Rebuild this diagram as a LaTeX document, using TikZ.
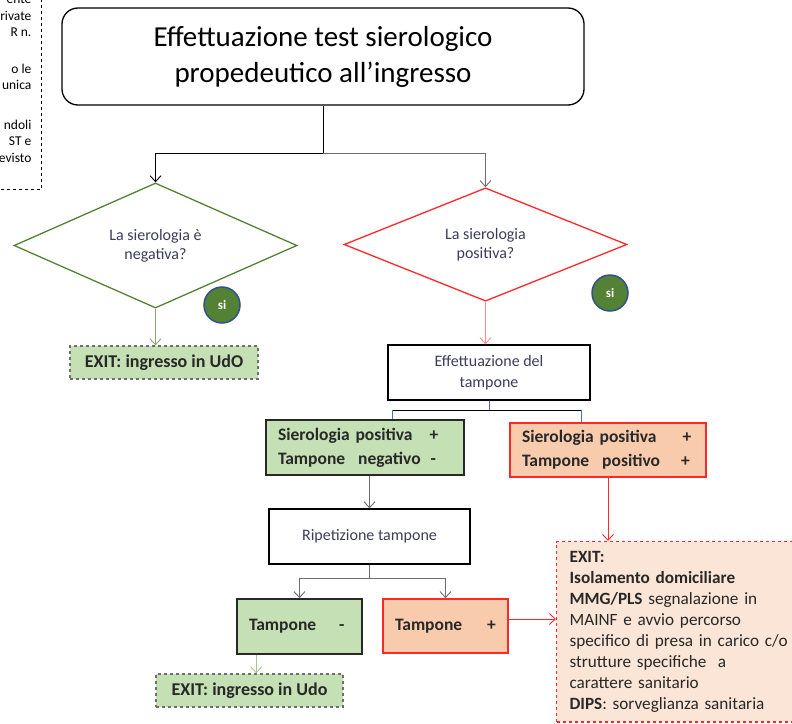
\documentclass[tikz,border=0pt]{standalone}
\usepackage{fontspec}
\setmainfont{Carlito}
\usetikzlibrary{arrows.meta,positioning,shapes.geometric,calc}
\definecolor{sieroGreen}{RGB}{84,130,53}
\definecolor{sieroBadge}{RGB}{47,82,143}
\definecolor{sieroLightGreen}{RGB}{197,224,180}
\definecolor{sieroLightRed}{RGB}{248,203,173}
\definecolor{sieroExitRed}{RGB}{251,229,214}
\definecolor{sieroRed}{RGB}{255,40,40}
\definecolor{sieroPink}{RGB}{255,140,140}
\definecolor{sieroGrey}{RGB}{110,110,110}
\definecolor{sieroBlue}{RGB}{68,114,196}
\definecolor{sieroText}{RGB}{60,60,90}
\definecolor{sieroDark}{RGB}{40,40,40}

\begin{document}
\begin{tikzpicture}[
  x=1pt,y=-1pt,
  decision/.style={
    draw,
    diamond,
    minimum width=283pt,
    minimum height=96pt,
    inner sep=0pt,
    align=center,
    line width=1.3pt,
    text=sieroText,
    font=\fontsize{16}{19}\selectfont
  },
  stepbox/.style={
    draw,
    line width=1.3pt,
    align=center,
    inner sep=0pt,
    text=sieroText,
    font=\fontsize{16}{21}\selectfont
  },
  outcome/.style={
    draw,
    line width=1.6pt,
    align=left,
    inner xsep=12pt,
    inner ysep=0pt,
    text=sieroDark,
    font=\bfseries\fontsize{17.5}{24}\selectfont
  },
  exitbox/.style={
    draw=sieroGrey,
    dashed,
    line width=1.2pt,
    fill=sieroLightGreen,
    inner sep=0pt,
    text=sieroDark,
    font=\bfseries\fontsize{18}{20}\selectfont
  },
  sibadge/.style={
    circle,
    draw=sieroBadge,
    line width=1.5pt,
    fill=sieroGreen,
    minimum size=36pt,
    inner sep=0pt,
    text=white,
    font=\bfseries\fontsize{13}{14}\selectfont
  },
  arrow/.style={-{Straight Barb[length=6pt,width=11pt]},line width=0.9pt}
]
  \clip (0,0) rectangle (792,723);
  \node[draw,dashed,line width=1.2pt,anchor=south east,align=right,
        inner xsep=10pt,inner ysep=27pt,
        font=\fontsize{13.5}{16.5}\selectfont] (note) at (42,190)
    {ente\\rivate\\R n.\\[20pt]o le\\unica\\[23pt]ndoli\\ST e\\evisto};
  \node[draw,rounded corners=16pt,line width=1.3pt,align=center,
        minimum width=522pt,minimum height=97pt,
        font=\fontsize{29}{36}\selectfont] (test) at (323,56.5)
    {Effettuazione test sierologico\\propedeutico all’ingresso};
  \node[decision,draw=sieroGreen] (neg) at (155.5,245.5) {La sierologia è\\negativa?};
  \node[decision,draw=sieroRed] (pos) at (485.5,244.5) {La sierologia\\positiva?};
  \node[sibadge] (sineg) at (222,305) {si};
  \node[sibadge] (sipos) at (610,293) {si};
  \node[exitbox,minimum width=188pt,minimum height=33pt] (exitudo) at (164,362.5)
    {EXIT: ingresso in UdO};
  \node[stepbox,minimum width=202pt,minimum height=55pt] (tampone) at (489,372.5)
    {Effettuazione del\\tampone};
  \node[outcome,fill=sieroLightGreen,draw=sieroDark,text width=174pt,minimum height=55pt] (tneg2) at (365,447.5)
    {Sierologia positiva\hspace{17pt}+\\Tampone\hspace{13pt}negativo\hspace{10pt}-};
  \node[outcome,fill=sieroLightRed,draw=sieroRed,text width=172pt,minimum height=54pt] (tpos2) at (608,450)
    {Sierologia positiva\hspace{26pt}+\\Tampone\hspace{13pt}positivo\hspace{21pt}+};
  \node[stepbox,minimum width=201pt,minimum height=55pt] (rip) at (369.5,536.5) {Ripetizione tampone};
  \node[outcome,fill=sieroLightGreen,draw=sieroDark,text width=101pt,minimum height=55pt] (tneg) at (299.5,626.5)
    {Tampone\hspace{23pt}-};
  \node[outcome,fill=sieroLightRed,draw=sieroRed,text width=101pt,minimum height=54pt] (tpos) at (445.5,626)
    {Tampone\hspace{25pt}+};
  \node[exitbox,minimum width=187pt,minimum height=33pt] (exitudo2) at (249.5,690.5)
    {EXIT: ingresso in Udo};
  \node[draw=sieroRed,dashed,line width=1.2pt,fill=sieroExitRed,anchor=north west,
        align=left,text width=230pt,inner xsep=13pt,inner ysep=10pt,text=sieroDark,
        font=\fontsize{17.2}{20.9}\selectfont] (exitiso) at (556,541)
    {\textbf{EXIT:}\\\textbf{Isolamento domiciliare}\\\textbf{MMG/PLS} segnalazione in\\MAINF e avvio percorso\\specifico di presa in carico c/o\\strutture specifiche\ \ a\\carattere sanitario\\\textbf{DIPS}: sorveglianza sanitaria};
  % first split
  \coordinate (split) at (test.south |- 0,153);
  \draw[line width=0.9pt] (test.south) -- (split);
  \draw[arrow] (split) -| (neg.north);
  \draw[arrow,sieroGrey] (split) -| (pos.north);
  \draw[arrow,sieroGreen!70] (neg.south) -- (neg.south |- exitudo.north);
  \draw[arrow,sieroPink] (pos.south) -- (pos.south |- tampone.north);
  % tampone split
  \coordinate (tsplit) at (tampone.south |- 0,410);
  \coordinate (tleft) at (392,410);
  \coordinate (tright) at (581,410);
  \draw[sieroBlue,line width=0.9pt] (tampone.south) -- (tsplit);
  \draw[line width=0.9pt] (tleft) -- (tright);
  \draw[sieroBlue,line width=0.9pt] (tleft) -- (tleft |- tneg2.north);
  \draw[sieroBlue,line width=0.9pt] (tright) -- (tright |- tpos2.north);
  \draw[arrow,sieroGrey] (rip.north |- tneg2.south) -- (rip.north);
  \draw[arrow,sieroRed] (tpos2.south) -- (tpos2.south |- exitiso.north);
  % ripetizione split
  \coordinate (rsplit) at (rip.south |- 0,578);
  \draw[line width=0.9pt,sieroGrey] (rip.south) -- (rsplit);
  \draw[arrow,sieroGrey] (rsplit) -| (tneg.north);
  \draw[arrow,sieroGrey] (rsplit) -| (tpos.north);
  \draw[arrow,sieroGreen!50] ([xshift=20pt]tneg.south west) -- ([xshift=20pt]tneg.south west |- exitudo2.north);
  \draw[arrow,sieroRed] ([yshift=7pt]tpos.east) -- ([yshift=7pt]tpos.east -| exitiso.west);
\end{tikzpicture}
\end{document}
